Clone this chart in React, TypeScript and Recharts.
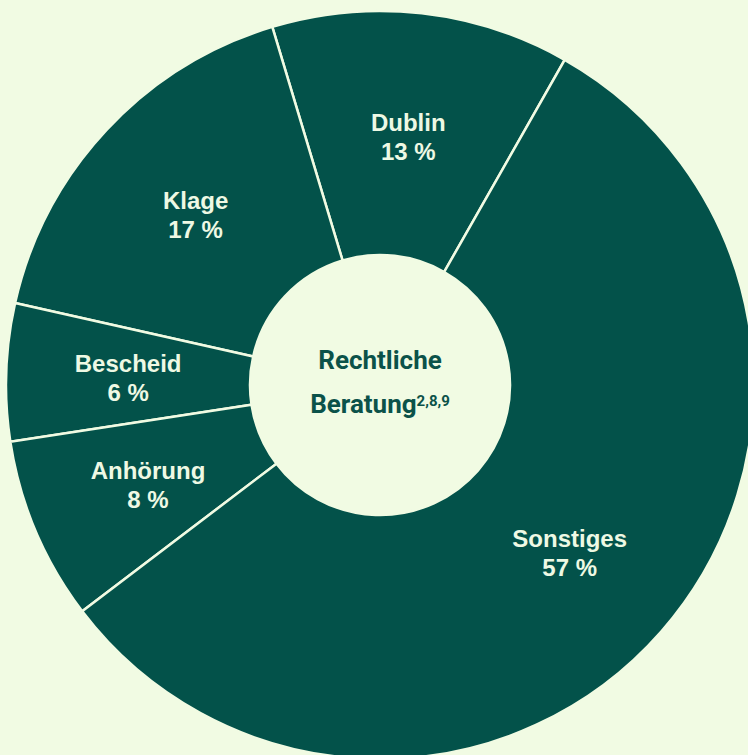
import { PieChart, Pie, Cell, Label } from "recharts";

const names = ["Dublin", "Klage", "Bescheid", "Anhörung", "Sonstiges"];
const shares = [13, 17, 6, 8, 57];
const centerLines = ["Rechtliche", "Beratung"];
const centerSup = "2,8,9";

const data = names.map((name, i) => ({ name, value: shares[i] }));

const BG = "#f1fbe3";
const FILL = "#03524a";
const INK = "#0b5249";
const LABEL = "#eef9e4";
const RADIAN = Math.PI / 180;

function sliceLabel(props: any) {
  const { cx, cy, midAngle, innerRadius, outerRadius, name, value } = props;
  const r = (innerRadius + outerRadius) / 2;
  const x = cx + r * Math.cos(-midAngle * RADIAN);
  const y = cy + r * Math.sin(-midAngle * RADIAN);
  return (
    <text
      x={x}
      y={y}
      textAnchor="middle"
      fill={LABEL}
      fontFamily="'Liberation Sans', Arial, sans-serif"
      fontWeight={700}
      fontSize={24}
    >
      <tspan x={x} y={y - 4}>{name}</tspan>
      <tspan x={x} y={y + 25}>{`${value} %`}</tspan>
    </text>
  );
}

function centerLabel(props: any) {
  const vb = props.viewBox || {};
  const cx = vb.cx ?? 380;
  const cy = vb.cy ?? 385;
  return (
    <text
      x={cx}
      y={cy}
      textAnchor="middle"
      fill={INK}
      fontFamily="Roboto, 'Noto Sans', sans-serif"
      fontWeight={700}
      fontSize={26}
    >
      <tspan x={cx} y={cy - 16}>{centerLines[0]}</tspan>
      <tspan x={cx} y={cy + 28}>
        {centerLines[1]}
        <tspan fontSize={15} dy={-7}>{centerSup}</tspan>
      </tspan>
    </text>
  );
}

export default function App() {
  return (
    <div
      style={{
        position: "fixed",
        left: 0,
        top: 0,
        width: 748,
        height: 755,
        background: BG,
        overflow: "hidden",
      }}
    >
      <PieChart width={748} height={755} margin={{ top: 0, right: 0, bottom: 0, left: 0 }}>
        <Pie
          data={data}
          dataKey="value"
          nameKey="name"
          cx={380}
          cy={385}
          innerRadius={130}
          outerRadius={374}
          startAngle={60.4}
          endAngle={420.4}
          stroke={BG}
          strokeWidth={2.5}
          label={sliceLabel}
          labelLine={false}
          isAnimationActive={false}
        >
          {data.map((d) => (
            <Cell key={d.name} fill={FILL} />
          ))}
          <Label content={centerLabel} position="center" />
        </Pie>
      </PieChart>
    </div>
  );
}
